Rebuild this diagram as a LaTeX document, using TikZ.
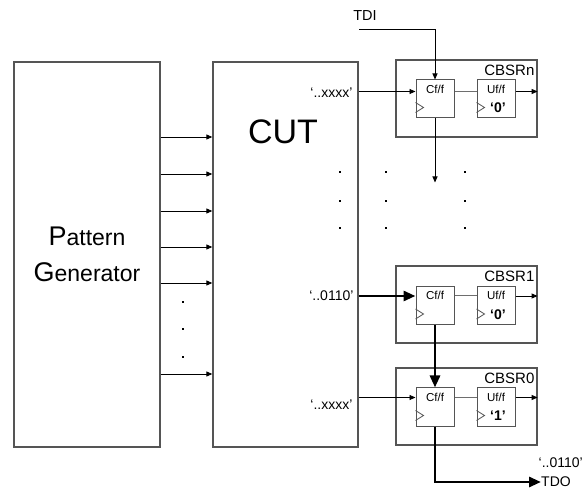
\documentclass[tikz,border=0pt]{standalone}
\usepackage{fontspec}
\setmainfont{Liberation Sans}
\usetikzlibrary{arrows.meta, positioning, calc}
\definecolor{BoxGray}{RGB}{85, 85, 85}
\definecolor{WireGray}{RGB}{110, 110, 110}

\begin{document}
\begin{tikzpicture}[
    x=1pt, y=-1pt,
    font=\fontsize{14}{16}\selectfont,
    block/.style = {
        rectangle, draw=BoxGray, line width=1.3pt,
        minimum width=146pt, minimum height=385pt, inner sep=0pt
    },
    cbsr/.style = {
        rectangle, draw=BoxGray, line width=1.2pt,
        minimum width=141pt, minimum height=77pt, inner sep=0pt
    },
    flop/.style = {
        rectangle, draw=BoxGray, line width=1pt, fill=white,
        minimum size=38pt, inner sep=0pt
    },
    floplabel/.style = {font=\fontsize{11.5}{13}\selectfont, inner sep=0pt, anchor=north},
    cbsrlabel/.style = {font=\fontsize{15}{17}\selectfont, inner sep=0pt, anchor=north east},
    value/.style = {font=\fontsize{14}{16}\selectfont\bfseries, inner sep=0pt},
    lbl/.style = {inner sep=0pt},
    dot/.style = {rectangle, fill=black, minimum size=2pt, inner sep=0pt},
    clock/.style = {draw=BoxGray, line width=0.8pt},
    wire/.style = {draw=WireGray, line width=1pt},
    sig/.style = {-{Triangle[length=6pt, width=5pt]}, line width=0.9pt},
    bus/.style = {-{Triangle[length=12pt, width=10pt]}, line width=2.8pt}
]
\useasboundingbox (0,0) rectangle (587,489);

% ===== PATTERN GENERATOR AND CUT =====
\node[block] (pg)  at (87,254.5) {};
\node[align=center, font=\fontsize{23}{36}\selectfont] (pgtext) at (pg.center) {%
    {\fontsize{27}{36}\selectfont P}attern\\{\fontsize{27}{36}\selectfont G}enerator};
\node[block, minimum width=145pt] (cut) at (285.5,254.5) {};
\node[font=\fontsize{34}{38}\selectfont, inner sep=0pt] (cuttext) at (283,132) {CUT};

% ===== CBSRn =====
\node[cbsr] (cbsrn) at (466.5,98.5) {};
\node[cbsrlabel] at ([xshift=-3pt, yshift=-5pt]cbsrn.north east) {CBSRn};
\node[flop] (cfn) at (435,99) {};
\node[floplabel] at ([yshift=-5pt]cfn.north) {Cf/f};
\node[flop] (ufn) at (496,99) {};
\node[floplabel] at ([yshift=-5pt]ufn.north) {Uf/f};
\node[value] (valn) at ([xshift=2pt, yshift=-9pt]ufn.center) {‘0’};
\coordinate (inN) at ([yshift=-12pt]cfn.north west);

% ===== CBSR1 =====
\node[cbsr] (cbsr1) at (466.5,304.5) {};
\node[cbsrlabel] at ([xshift=-3pt, yshift=-5pt]cbsr1.north east) {CBSR1};
\node[flop] (cf1) at (435,305.5) {};
\node[floplabel] at ([yshift=-5pt]cf1.north) {Cf/f};
\node[flop] (uf1) at (496,305.5) {};
\node[floplabel] at ([yshift=-5pt]uf1.north) {Uf/f};
\node[value] (val1) at ([xshift=2pt, yshift=-9pt]uf1.center) {‘0’};
\coordinate (in1) at ([yshift=-10pt]cf1.north west);

% ===== CBSR0 =====
\node[cbsr] (cbsr0) at (466.5,406.5) {};
\node[cbsrlabel] at ([xshift=-3pt, yshift=-5pt]cbsr0.north east) {CBSR0};
\node[flop] (cf0) at (435,407) {};
\node[floplabel] at ([yshift=-5pt]cf0.north) {Cf/f};
\node[flop] (uf0) at (496,407) {};
\node[floplabel] at ([yshift=-5pt]uf0.north) {Uf/f};
\node[value] (val0) at ([xshift=2pt, yshift=-9pt]uf0.center) {‘1’};
\coordinate (in0) at ([yshift=-10pt]cf0.north west);

% clock marks
\foreach \f in {cfn, ufn, cf1, uf1, cf0, uf0}
    \draw[clock] ([yshift=6pt]\f.south west) -- ++(8,-5) -- ++(-8,-5);

% ===== TDI / TDO =====
\node[lbl, font=\fontsize{14.5}{16}\selectfont] (tdi) at (365,16) {TDI};
\coordinate (tdiin) at (359,29);
\node[lbl, anchor=west] (tdo) at (541,482) {TDO};
\node[lbl, anchor=east] (tdoval) at (583,463) {‘..0110’};

% ===== CUT OUTPUT LABELS =====
\node[lbl, anchor=east] (outn) at ($(cut.east |- inN)+(-6,1)$) {‘..xxxx’};
\node[lbl, anchor=east] (out1) at ($(cut.east |- in1)+(-5,0)$) {‘..0110’};
\node[lbl, anchor=east] (out0) at ($(cut.east |- in0)+(-6,7)$) {‘..xxxx’};

% ===== DOTS =====
\foreach \y in {302, 329, 357}
    \node[dot] (pgd\y) at (183,\y) {};
\foreach \x in {340, 386, 465}
    \foreach \y in {172, 201, 228}
        \node[dot] (d\x-\y) at (\x,\y) {};

% ===== ARROWS =====
\foreach \y in {137, 174, 211, 247, 283, 374}
    \draw[sig] (pg.east |- 0,\y) -- (cut.west |- 0,\y);

\draw[sig] (tdiin) -| (cfn.north);
\draw[sig] (cut.east |- inN) -- (inN);
\draw[wire] (cfn.east |- inN) -- (ufn.west |- inN);
\draw[sig] (ufn.east |- inN) -- (cbsrn.east |- inN);
\draw[sig] (cfn.south) -- ++(0,64);

\draw[bus] (cut.east |- in1) -- (in1);
\draw[wire] (cf1.east |- in1) -- (uf1.west |- in1);
\draw[sig] (uf1.east |- in1) -- (cbsr1.east |- in1);
\draw[bus] (cf1.south) -- (cf0.north);

\draw[sig] (cut.east |- in0) -- (in0);
\draw[wire] (cf0.east |- in0) -- (uf0.west |- in0);
\draw[sig] (uf0.east |- in0) -- (cbsr0.east |- in0);
\draw[bus] (cf0.south) |- (tdo.west);
\end{tikzpicture}
\end{document}
